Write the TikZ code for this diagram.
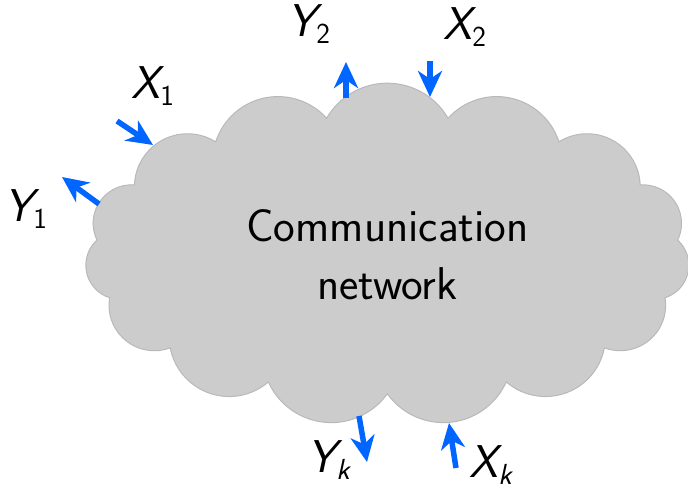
\documentclass[tikz,border=0pt]{standalone}
\usepackage{fontspec}
\usetikzlibrary{arrows.meta,calc}
\definecolor{arrowblue}{RGB}{0,102,255}
\definecolor{cloudfill}{RGB}{204,204,204}
\definecolor{cloudline}{RGB}{185,185,185}
\newcommand{\sublabel}[2]{{\itshape #1}\kern0.5pt\raisebox{-7pt}{\fontsize{29}{29}\selectfont #2}}
\begin{document}
\begin{tikzpicture}[x=1pt,y=1pt,
  flow/.style={draw=arrowblue, line width=5.5pt,
    -{Stealth[length=26pt,width=24pt,inset=8pt,fill=arrowblue]}},
  lbl/.style={font=\sffamily\fontsize{46}{58}\selectfont, inner sep=0pt},
  cloudpath/.style={draw=cloudline, fill=cloudfill, line width=1pt}]
\useasboundingbox (0,0) rectangle (688,488);
% cusps of the cloud on an ellipse
\foreach \k in {0,...,15}
  \coordinate (c\k) at ({387.5+292*cos(270+24*\k)},{233.5+139.5*sin(270+24*\k)});
\path[cloudpath]
  (c0) \foreach \k [evaluate=\k as \j using int(\k+1)] in {0,...,14} {
     let \p1=(c\k), \p2=(c\j),
         \n1={atan2(\y2-\y1,\x2-\x1)}, \n2={veclen(\x2-\x1,\y2-\y1)/1.7320508}
     in arc[start angle=\n1-150, delta angle=120, radius=\n2]
  } -- cycle;
\node[lbl, anchor=center, align=center] (net) at (387.5,233) {Communication\\network};
% arrows
\coordinate (x1s) at (117,367); \coordinate (x1e) at (153,343);
\coordinate (y1s) at (99,284);  \coordinate (y1e) at (62,311);
\coordinate (y2s) at (346,390); \coordinate (y2e) at (346,426);
\coordinate (x2s) at (430,427); \coordinate (x2e) at (430,391);
\coordinate (yks) at (359,72);  \coordinate (yke) at (367,26);
\coordinate (xks) at (456,20);  \coordinate (xke) at (449,65);
\draw[flow] (x1s) -- (x1e);
\draw[flow] (y1s) -- (y1e);
\draw[flow] (y2s) -- (y2e);
\draw[flow] (x2s) -- (x2e);
\draw[flow] (yks) -- (yke);
\draw[flow] (xks) -- (xke);
% labels
\node[lbl, anchor=base west] (lx1) at (131,389) {\sublabel{X}{1}};
\node[lbl, anchor=base west] (ly1) at (4,266) {\sublabel{Y}{1}};
\node[lbl, anchor=base west] (ly2) at (287,451) {\sublabel{Y}{2}};
\node[lbl, anchor=base west] (lx2) at (443,448) {\sublabel{X}{2}};
\node[lbl, anchor=base west] (lyk) at (307,16) {\sublabel{Y}{\itshape k}};
\node[lbl, anchor=base west] (lxk) at (469,11) {\sublabel{X}{\itshape k}};
\end{tikzpicture}
\end{document}
